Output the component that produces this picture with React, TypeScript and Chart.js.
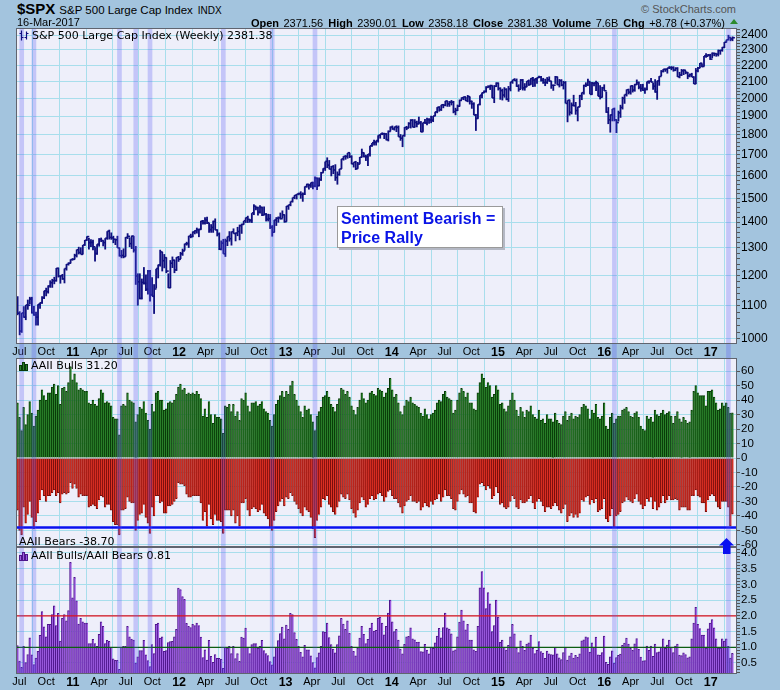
import React, { useEffect, useRef } from 'react';
import { Chart, registerables } from 'chart.js';

Chart.register(...registerables);

const FONT = 'Arial, "Liberation Sans", Helvetica, sans-serif';
const VFONT = '"DejaVu Sans", Verdana, sans-serif';

// week index 0 = week ending 25-Jun-2010 (weekly bars)
const FIRST_WEEK = '2010-06-25';

const priceHigh = [
  1131,1083,1078,1099,1103,1120,1129,1129,1100,1082,1105,1111,1131,1149,1159,1167,1184,1189,1196,1227,1228,1200,1206,1225,1241,1247,1258,1262,
  1278,1294,1304,1302,1311,1330,1344,1338,1333,1331,1302,1314,1337,1339,1329,1337,1364,1370,1359,1346,1334,1346,1301,1292,1298,1341,1356,1340,1347,1345,1307,1208,1208,1190,1230,1204,1220,1220,1195,1171,1224,1239,1293,1285,1277,1265,1208,1255,1268,1256,1266,1270,
  1285,1297,1316,1323,1346,1354,1363,1368,1378,1374,1406,1409,1420,1422,1397,1392,1406,1415,1371,1359,1328,1334,1335,1343,1364,1363,1375,1358,1381,1390,1394,1405,1419,1426,1413,1437,1474,1465,1464,1470,1464,1465,1437,1434,1433,1388,1409,1420,1423,1439,1448,1431,
  1467,1472,1486,1503,1514,1518,1524,1530,1525,1552,1564,1563,1570,1573,1597,1592,1592,1618,1635,1667,1687,1674,1646,1650,1654,1620,1632,1680,1693,1698,1709,1710,1697,1664,1670,1665,1689,1730,1711,1700,1704,1745,1759,1775,1771,1798,1804,1813,1811,1809,1823,1844,
  1849,1843,1850,1849,1804,1798,1841,1847,1867,1883,1883,1883,1875,1897,1873,1865,1884,1891,1889,1902,1901,1924,1950,1955,1963,1968,1985,1985,1984,1990,1985,1946,1964,1993,2006,2011,2008,2019,2010,1986,1977,1912,1966,2018,2034,2046,2071,2076,2079,2076,2077,2094,
  2093,2064,2056,2065,2058,2072,2097,2110,2119,2117,2082,2114,2114,2089,2102,2111,2120,2126,2117,2123,2134,2133,2121,2116,2126,2130,2102,2078,2133,2129,2114,2113,2103,2101,1989,1993,1976,2020,1979,1952,2020,2034,2080,2094,2116,2100,2097,2094,2104,2090,2077,2067,2082,
  2039,1950,1909,1940,1947,1882,1930,1963,2009,2022,2052,2056,2075,2075,2085,2111,2099,2084,2085,2064,2099,2106,2120,2092,2113,2104,2132,2169,2176,2178,2183,2194,2194,2193,2187,2187,2158,2176,2175,2165,2158,2148,2152,2131,2182,2189,2214,2211,2260,2278,2273,2273,
  2282,2280,2276,2301,2298,2319,2352,2368,2401,2384,2390.01,
];

const priceLow = [
  1071,1011,1018,1063,1056,1088,1105,1076,1069,1040,1040,1091,1107,1122,1131,1140,1159,1159,1171,1180,1194,1173,1186,1174,1218,1236,1243,1254,
  1257,1265,1276,1276,1276,1308,1327,1294,1303,1291,1250,1275,1305,1322,1306,1294,1331,1332,1331,1318,1311,1300,1268,1262,1262,1268,1334,1303,1296,1283,1169,1101,1121,1121,1170,1148,1137,1114,1131,1075,1157,1191,1232,1215,1226,1209,1158,1158,1227,1209,1217,1249,
  1259,1271,1290,1309,1300,1337,1341,1352,1355,1341,1370,1391,1391,1393,1358,1358,1358,1368,1344,1292,1291,1278,1267,1307,1324,1309,1354,1325,1345,1329,1354,1390,1397,1397,1398,1397,1429,1449,1427,1435,1425,1428,1403,1403,1373,1343,1359,1385,1398,1411,1416,1398,
  1402,1451,1466,1482,1496,1495,1513,1498,1485,1514,1547,1538,1546,1539,1548,1536,1553,1577,1614,1623,1636,1630,1598,1608,1577,1560,1601,1632,1672,1676,1681,1684,1654,1639,1627,1633,1656,1687,1687,1670,1646,1692,1740,1746,1746,1761,1781,1799,1779,1772,1767,1818,
  1827,1823,1815,1790,1770,1738,1791,1825,1836,1834,1839,1839,1840,1856,1814,1816,1859,1851,1859,1862,1868,1900,1916,1925,1929,1944,1955,1952,1952,1960,1916,1905,1928,1953,1990,1990,1984,1978,1965,1941,1905,1821,1886,1961,2001,2031,2034,2062,2049,2002,1973,2066,
  2046,1992,1988,2004,1989,1980,2041,2086,2103,2067,2039,2055,2046,2045,2067,2073,2080,2067,2068,2085,2120,2099,2086,2072,2085,2098,2056,2044,2085,2077,2064,2071,2052,1971,1867,1903,1910,1954,1908,1872,1951,1990,2022,2066,2072,2023,2020,2071,2042,2012,1994,2005,2043,
  1918,1857,1812,1872,1872,1810,1871,1891,1937,1969,2011,2023,2022,2034,2039,2078,2053,2039,2043,2026,2047,2086,2097,2050,2033,1992,2074,2132,2155,2159,2148,2177,2169,2160,2163,2127,2119,2133,2139,2144,2114,2125,2126,2084,2084,2156,2183,2187,2192,2248,2259,2234,
  2245,2258,2255,2257,2268,2288,2312,2349,2365,2358,2358.18,
];

const priceClose = [
  1077,1023,1078,1065,1103,1102,1122,1079,1072,1065,1105,1110,1126,1149,1146,1165,1176,1183,1183,1226,1199,1200,1189,1225,1240,1244,1257,1258,
  1272,1293,1283,1276,1311,1329,1343,1320,1321,1304,1279,1314,1332,1328,1320,1337,1364,1340,1338,1333,1331,1300,1271,1272,1268,1340,1344,1316,1345,1292,1199,1179,1124,1177,1174,1154,1216,1136,1131,1155,1225,1238,1285,1253,1264,1216,1159,1244,1255,1220,1265,1258,
  1278,1289,1315,1316,1345,1343,1361,1366,1370,1371,1404,1397,1409,1398,1370,1379,1403,1369,1353,1295,1318,1278,1326,1343,1335,1362,1355,1357,1363,1386,1391,1406,1418,1411,1407,1438,1466,1460,1441,1461,1429,1433,1412,1414,1380,1360,1409,1416,1418,1414,1430,1402,
  1466,1472,1486,1503,1513,1518,1520,1516,1518,1551,1561,1557,1569,1553,1589,1555,1582,1614,1634,1668,1650,1631,1643,1627,1592,1606,1632,1680,1692,1692,1710,1691,1656,1664,1633,1655,1688,1710,1692,1690,1703,1745,1760,1762,1771,1798,1805,1806,1805,1775,1818,1841,
  1831,1842,1839,1790,1783,1797,1839,1836,1860,1878,1841,1866,1858,1865,1816,1865,1863,1881,1879,1878,1901,1924,1949,1936,1963,1961,1985,1968,1978,1978,1925,1932,1955,1988,2003,2008,1986,2010,1983,1968,1906,1887,1965,2018,2032,2040,2064,2068,2075,2002,2071,2089,
  2058,2045,2019,2052,1995,2055,2097,2110,2105,2071,2053,2108,2061,2067,2102,2081,2118,2108,2116,2123,2126,2107,2093,2094,2110,2102,2077,2077,2127,2080,2104,2078,2092,1971,1989,1921,1961,1958,1931,1951,2015,2033,2075,2079,2099,2023,2089,2090,2092,2012,2006,2061,2044,
  1922,1880,1907,1940,1880,1865,1918,1948,2000,2022,2050,2036,2073,2048,2081,2092,2065,2057,2047,2052,2099,2099,2096,2071,2037,2103,2130,2162,2175,2174,2183,2184,2184,2169,2180,2128,2139,2165,2168,2154,2133,2141,2126,2085,2165,2182,2213,2192,2260,2258,2264,2239,
  2277,2275,2271,2295,2297,2316,2351,2367,2383,2373,2381.38,
];

// AAII weekly survey, % bullish
const aaiiBulls = [
  38,28,19,35,23,30,39,31,22,29,33,40,47,43,40,45,45,49,51,44,50,37,48,49,46,52,63,54,
  58,52,47,48,47,46,46,38,37,40,37,36,41,47,45,38,39,38,36,28,27,27,16,36,37,36,45,40,39,38,25,30,35,34,39,31,26,20,37,32,45,46,40,40,33,34,38,39,38,40,44,49,
  51,47,48,44,45,44,45,44,46,44,41,29,34,28,39,30,24,30,28,28,27,17,36,35,37,32,37,29,32,26,41,40,45,36,32,38,38,39,36,37,39,34,32,31,26,22,30,37,40,43,46,42,
  46,44,50,53,44,40,36,32,28,36,33,34,30,25,19,29,32,35,42,43,46,42,37,35,32,37,41,48,47,44,46,42,36,33,30,35,40,45,41,38,40,45,46,44,43,48,47,46,42,45,48,55,
  47,42,44,38,32,30,36,40,39,42,38,37,36,35,31,29,34,30,27,30,31,33,38,40,39,44,46,42,41,40,31,33,40,45,48,46,42,45,38,38,34,33,45,52,58,55,49,52,50,42,44,50,
  47,37,38,34,32,36,40,45,40,33,29,35,32,28,33,32,36,30,28,27,33,26,27,24,30,27,27,25,31,26,24,23,29,32,26,29,31,27,29,28,30,35,37,36,34,27,33,31,37,28,27,29,38,
  22,20,28,31,24,27,29,29,33,34,35,32,29,28,31,32,28,22,20,19,29,27,28,25,33,30,29,31,33,30,31,32,29,24,29,32,27,25,28,26,24,25,33,46,50,45,43,43,43,36,46,46,
  47,42,38,33,34,38,36,38,35,31,31.2,
];

// AAII weekly survey, % bearish (plotted below zero)
const aaiiBearsPct = [
  36,50,53,34,45,39,30,41,49,44,38,29,22,26,30,26,26,24,22,26,24,31,25,24,25,24,17,21,
  18,21,27,25,26,26,26,34,33,32,33,35,29,26,27,34,32,32,36,44,46,46,53,36,36,35,27,30,31,31,50,43,39,38,32,41,45,52,34,40,26,26,31,30,38,38,33,33,32,30,28,17,
  18,18,19,25,27,27,26,26,26,26,31,43,37,47,32,42,46,39,43,43,44,52,36,36,36,40,36,45,40,47,31,31,28,36,40,35,34,35,37,36,32,38,40,42,48,50,43,37,33,30,28,33,
  27,28,24,26,30,32,35,38,40,34,36,37,41,49,55,43,39,34,28,29,26,32,34,37,39,34,30,25,27,28,25,29,35,38,41,36,31,27,29,34,32,28,26,29,28,25,24,26,30,27,23,22,
  26,28,28,31,34,38,33,30,29,26,30,30,31,30,36,34,31,33,34,30,32,29,28,25,30,27,22,26,26,28,35,36,30,25,22,25,27,26,31,31,37,38,27,18,17,19,22,19,21,28,26,20,
  24,32,31,34,35,34,30,26,28,34,35,29,31,31,30,28,26,31,35,30,28,30,33,37,34,34,35,33,31,33,36,38,35,32,44,40,38,41,39,41,38,29,30,27,26,32,29,31,28,37,36,35,28,
  42,44,40,35,48,40,39,37,31,30,27,29,30,31,28,25,30,32,35,33,28,30,27,35,30,36,34,31,26,31,29,26,29,29,28,29,36,34,34,34,36,36,26,26,22,26,27,31,31,37,29,26,
  25,26,30,34,35,30,30,30,34,47,38.7,
];

// weeks marked with a highlight band (bearish extremes)
const bandWeeks = [2, 8, 50, 58, 65, 101, 125, 146, 293, 349];

const xTickDates = [
  '2010-07-01', '2010-10-01',
  '2011-01-01', '2011-04-01', '2011-07-01', '2011-10-01',
  '2012-01-01', '2012-04-01', '2012-07-01', '2012-10-01',
  '2013-01-01', '2013-04-01', '2013-07-01', '2013-10-01',
  '2014-01-01', '2014-04-01', '2014-07-01', '2014-10-01',
  '2015-01-01', '2015-04-01', '2015-07-01', '2015-10-01',
  '2016-01-01', '2016-04-01', '2016-07-01', '2016-10-01',
  '2017-01-01',
];
const xTickLabels = [
  'Jul', 'Oct',
  '11', 'Apr', 'Jul', 'Oct',
  '12', 'Apr', 'Jul', 'Oct',
  '13', 'Apr', 'Jul', 'Oct',
  '14', 'Apr', 'Jul', 'Oct',
  '15', 'Apr', 'Jul', 'Oct',
  '16', 'Apr', 'Jul', 'Oct',
  '17',
];

const priceLabelTicks = [1000, 1100, 1200, 1300, 1400, 1500, 1600, 1700, 1800, 1900, 2000, 2100, 2200, 2300, 2400];
const sentimentTicks = [-60, -50, -40, -30, -20, -10, 0, 10, 20, 30, 40, 50, 60];
const ratioTicks = [0.5, 1.0, 1.5, 2.0, 2.5, 3.0, 3.5, 4.0];

const bearAlertLevel = -48;
const ratioUpperLevel = 2.0;
const ratioLowerLevel = 1.0;

// axis ranges
const X_MIN = -0.8;
const X_MAX = 353.2;
const PRICE_MIN = 985.7;
const PRICE_MAX = 2449;
const SENT_MIN = -61.4;
const SENT_MAX = 69;
const RATIO_MIN = 0.15;
const RATIO_MAX = 4.19;

// layout (px)
const PRICE_AREA_H = 316;
const PRICE_STRIP_H = 14;

// colours
const PAGE_BG = 'rgb(163,196,222)';
const PANEL_BG = 'rgb(238,239,250)';
const GRID = 'rgb(168,222,236)';
const BORDER = '#60646f';
const BAND = 'rgba(85,85,245,0.27)';
const NAVY = '#10107f';

const DAY = 864e5;
const weekOf = (d: string) =>
  (Date.parse(d + 'T00:00:00Z') - Date.parse(FIRST_WEEK + 'T00:00:00Z')) / (7 * DAY);
const xTickPos = xTickDates.map(weekOf);

const panelPlugin = {
  id: 'panelFrame',
  beforeDraw(chart: any) {
    const { ctx, chartArea: a } = chart;
    ctx.save();
    ctx.fillStyle = PANEL_BG;
    ctx.fillRect(a.left, a.top, a.right - a.left, a.bottom - a.top);
    ctx.restore();
  },
  afterDraw(chart: any) {
    const { ctx, chartArea: a } = chart;
    ctx.save();
    ctx.strokeStyle = BORDER;
    ctx.lineWidth = 1;
    ctx.strokeRect(a.left + 0.5, a.top + 0.5, a.right - a.left - 1, a.bottom - a.top - 1);
    ctx.restore();
  },
};

function xScale(showLabels: boolean, height: number) {
  return {
    type: 'linear',
    min: X_MIN,
    max: X_MAX,
    bounds: 'data',
    offset: false,
    afterBuildTicks: (s: any) => {
      s.ticks = xTickPos.map((v) => ({ value: v }));
    },
    afterFit: (s: any) => {
      s.height = height;
      s.paddingLeft = 0;
      s.paddingRight = 0;
    },
    ticks: {
      display: showLabels,
      autoSkip: false,
      maxRotation: 0,
      minRotation: 0,
      padding: 1,
      color: '#000',
      callback: (_v: any, i: number) => xTickLabels[i],
      font: (ctx: any) => {
        const yr = /^\d/.test(xTickLabels[ctx.index] || '');
        return { family: FONT, size: yr ? 12.5 : 11, weight: yr ? 'bold' : 'normal' };
      },
    },
    grid: { color: GRID, drawTicks: false, lineWidth: 1 },
    border: { display: false },
  };
}

function yScale(extra: any) {
  return {
    position: 'right',
    bounds: 'data',
    afterFit: (s: any) => {
      s.width = 43;
      s.paddingTop = 0;
      s.paddingBottom = 0;
    },
    border: { display: false },
    ...extra,
  };
}

function bandDataset(lo: number, hi: number, clip?: boolean) {
  return {
    type: 'bar',
    data: bandWeeks.map((w) => ({ x: w, y: [lo, hi] })),
    backgroundColor: BAND,
    borderWidth: 0,
    barThickness: 4,
    grouped: false,
    order: 0,
    ...(clip === false ? { clip: false } : {}),
  };
}

function levelLine(level: number, color: string, width: number) {
  return {
    type: 'line',
    data: [
      { x: X_MIN, y: level },
      { x: X_MAX, y: level },
    ],
    borderColor: color,
    borderWidth: width,
    pointRadius: 0,
    fill: false,
    order: 0,
  };
}

const baseOptions = {
  responsive: false,
  animation: false,
  devicePixelRatio: 1,
  events: [],
  layout: { padding: { left: 16, right: 0, top: 0, bottom: 0 }, autoPadding: false },
  plugins: { legend: { display: false }, tooltip: { enabled: false }, title: { display: false } },
};

function priceConfig(): any {
  const tickVals: number[] = [];
  for (let v = 1000; v <= 2440; v += 20) tickVals.push(v);
  // bands continue through the date strip below the price panel
  const bandLow = PRICE_MIN * Math.pow(PRICE_MAX / PRICE_MIN, -PRICE_STRIP_H / PRICE_AREA_H);
  return {
    type: 'bar',
    data: {
      datasets: [
        bandDataset(bandLow, PRICE_MAX, false),
        {
          type: 'scatter',
          data: priceClose.map((c, i) => ({ x: i, y: c })),
          pointStyle: 'dash',
          pointRadius: 2.4,
          pointBorderWidth: 1.6,
          pointBorderColor: NAVY,
          pointBackgroundColor: NAVY,
          order: 1,
        },
        {
          type: 'bar',
          data: priceHigh.map((h, i) => ({ x: i, y: [priceLow[i], h] })),
          backgroundColor: NAVY,
          borderWidth: 0,
          barPercentage: 0.9,
          categoryPercentage: 1,
          grouped: false,
          order: 2,
        },
      ],
    },
    options: {
      ...baseOptions,
      scales: {
        x: xScale(true, PRICE_STRIP_H),
        y: yScale({
          type: 'logarithmic',
          min: PRICE_MIN,
          max: PRICE_MAX,
          afterBuildTicks: (s: any) => {
            s.ticks = tickVals.map((v) => ({ value: v }));
          },
          ticks: {
            autoSkip: false,
            padding: 1,
            color: '#000',
            font: { family: FONT, size: 12 },
            callback: (v: any) => (priceLabelTicks.includes(Number(v)) ? String(v) : ''),
          },
          grid: {
            color: (c: any) => (c.tick && priceLabelTicks.includes(c.tick.value) ? GRID : 'rgba(0,0,0,0)'),
            tickColor: '#555',
            tickLength: 3,
            lineWidth: 1,
          },
        }),
      },
    },
    plugins: [panelPlugin],
  };
}

function sentimentConfig(): any {
  return {
    type: 'bar',
    data: {
      datasets: [
        bandDataset(SENT_MIN, SENT_MAX),
        levelLine(bearAlertLevel, '#0a10f0', 2.5),
        {
          type: 'bar',
          data: aaiiBulls.map((v, i) => ({ x: i, y: v })),
          backgroundColor: 'rgb(42,128,42)',
          borderColor: 'rgb(8,58,8)',
          borderWidth: { left: 1, top: 1, right: 0, bottom: 0 },
          borderSkipped: false,
          barPercentage: 1,
          categoryPercentage: 1,
          grouped: false,
          order: 2,
        },
        {
          type: 'bar',
          data: aaiiBearsPct.map((v, i) => ({ x: i, y: -v })),
          backgroundColor: 'rgb(222,48,36)',
          borderColor: 'rgb(118,14,12)',
          borderWidth: { left: 1, bottom: 1, right: 0, top: 0 },
          borderSkipped: false,
          barPercentage: 1,
          categoryPercentage: 1,
          grouped: false,
          order: 2,
        },
      ],
    },
    options: {
      ...baseOptions,
      scales: {
        x: xScale(false, 5),
        y: yScale({
          type: 'linear',
          min: SENT_MIN,
          max: SENT_MAX,
          afterBuildTicks: (s: any) => {
            s.ticks = sentimentTicks.map((v) => ({ value: v }));
          },
          ticks: {
            autoSkip: false,
            padding: 1,
            color: '#000',
            font: { family: FONT, size: 11.5 },
            callback: (v: any) => String(v),
          },
          grid: { color: GRID, tickColor: '#555', tickLength: 3, lineWidth: 1 },
        }),
      },
    },
    plugins: [panelPlugin],
  };
}

function ratioConfig(): any {
  const tickVals: number[] = [];
  for (let k = 2; k <= 41; k++) tickVals.push(k / 10);
  const isLabel = (v: number) => ratioTicks.some((t) => Math.abs(t - v) < 1e-6);
  return {
    type: 'bar',
    data: {
      datasets: [
        bandDataset(RATIO_MIN, RATIO_MAX),
        levelLine(ratioUpperLevel, '#e0101c', 1.3),
        levelLine(ratioLowerLevel, '#0d5e12', 1.3),
        {
          type: 'bar',
          data: aaiiBulls.map((b, i) => ({ x: i, y: b / aaiiBearsPct[i] })),
          backgroundColor: 'rgb(156,92,224)',
          borderColor: 'rgb(78,22,140)',
          borderWidth: { left: 1, top: 1, right: 0, bottom: 0 },
          borderSkipped: false,
          barPercentage: 1,
          categoryPercentage: 1,
          grouped: false,
          order: 2,
        },
      ],
    },
    options: {
      ...baseOptions,
      scales: {
        x: xScale(true, 16),
        y: yScale({
          type: 'linear',
          min: RATIO_MIN,
          max: RATIO_MAX,
          afterBuildTicks: (s: any) => {
            s.ticks = tickVals.map((v) => ({ value: v }));
          },
          ticks: {
            autoSkip: false,
            padding: 1,
            color: '#000',
            font: { family: FONT, size: 11.5 },
            callback: (v: any) => (isLabel(Number(v)) ? Number(v).toFixed(1) : ''),
          },
          grid: {
            color: (c: any) => (c.tick && isLabel(c.tick.value) ? GRID : 'rgba(0,0,0,0)'),
            tickColor: '#555',
            tickLength: 3,
            lineWidth: 1,
          },
        }),
      },
    },
    plugins: [panelPlugin],
  };
}

const abs = (s: any): any => ({ position: 'absolute', whiteSpace: 'nowrap', ...s });

function BarsIcon({ fill, edge }: { fill: string; edge: string }) {
  return (
    <svg width="9" height="10" style={{ display: 'block' }}>
      <rect x="0.5" y="4.5" width="2" height="5" fill={fill} stroke={edge} strokeWidth="1" />
      <rect x="3.5" y="1.5" width="2" height="8" fill={fill} stroke={edge} strokeWidth="1" />
      <rect x="6.5" y="3.5" width="2" height="6" fill={fill} stroke={edge} strokeWidth="1" />
    </svg>
  );
}

export default function App() {
  const refA = useRef<HTMLCanvasElement>(null);
  const refB = useRef<HTMLCanvasElement>(null);
  const refC = useRef<HTMLCanvasElement>(null);

  useEffect(() => {
    const charts = [
      new Chart(refA.current as any, priceConfig()),
      new Chart(refB.current as any, sentimentConfig()),
      new Chart(refC.current as any, ratioConfig()),
    ];
    return () => charts.forEach((c) => c.destroy());
  }, []);

  const lbl = { fontWeight: 'bold', fontSize: 11 };
  const val = { fontSize: 11 };
  const gap = 5;

  return (
    <div
      style={{
        position: 'absolute',
        left: 0,
        top: 0,
        width: 780,
        height: 690,
        background: PAGE_BG,
        overflow: 'hidden',
        fontFamily: FONT,
        color: '#000',
      }}
    >
      <canvas ref={refA} width={780} height={PRICE_AREA_H + PRICE_STRIP_H} style={{ position: 'absolute', left: 0, top: 28 }} />
      <canvas ref={refB} width={780} height={194} style={{ position: 'absolute', left: 0, top: 358 }} />
      <canvas ref={refC} width={780} height={143} style={{ position: 'absolute', left: 0, top: 547 }} />

      {/* header */}
      <div style={abs({ left: 17, top: 0, height: 17, display: 'flex', alignItems: 'baseline', lineHeight: '17px' })}>
        <span style={{ fontSize: 15, fontWeight: 'bold' }}>$SPX</span>
        <span style={{ fontSize: 11.5, marginLeft: 4 }}>S&amp;P 500 Large Cap Index</span>
        <span style={{ fontSize: 10, marginLeft: 5 }}>INDX</span>
      </div>
      <div style={abs({ left: 17, top: 15, fontSize: 11, lineHeight: '14px' })}>16-Mar-2017</div>
      <div style={abs({ right: 44, top: 2, fontSize: 11, lineHeight: '14px', color: '#555' })}>© StockCharts.com</div>
      <div style={abs({ right: 55, top: 15, lineHeight: '14px' })}>
        <span style={lbl}>Open</span> <span style={val}>2371.56</span>
        <span style={{ ...lbl, marginLeft: gap }}>High</span> <span style={val}>2390.01</span>
        <span style={{ ...lbl, marginLeft: gap }}>Low</span> <span style={val}>2358.18</span>
        <span style={{ ...lbl, marginLeft: gap }}>Close</span> <span style={val}>2381.38</span>
        <span style={{ ...lbl, marginLeft: gap }}>Volume</span> <span style={val}>7.6B</span>
        <span style={{ ...lbl, marginLeft: gap }}>Chg</span> <span style={val}>+8.78 (+0.37%)</span>
      </div>
      <div
        style={abs({
          left: 730,
          top: 19,
          width: 0,
          height: 0,
          borderLeft: '4px solid transparent',
          borderRight: '4px solid transparent',
          borderBottom: '5px solid #2c8a2c',
        })}
      />

      {/* panel legends */}
      <div style={abs({ left: 19, top: 29, display: 'flex', alignItems: 'center', height: 13 })}>
        <svg width="10" height="11" style={{ display: 'block' }}>
          <path d="M2.5 0.5 V10.5 M0.5 3.5 H2.5 M2.5 7.5 H4.5 M7.5 1.5 V9.5 M5.5 7.5 H7.5 M7.5 3.5 H9.5" stroke={NAVY} strokeWidth="1.2" fill="none" />
        </svg>
        <span style={{ fontFamily: VFONT, fontSize: 11, marginLeft: 3, lineHeight: '13px' }}>
          S&amp;P 500 Large Cap Index (Weekly) 2381.38
        </span>
      </div>
      <div style={abs({ left: 19, top: 359, display: 'flex', alignItems: 'center', height: 13 })}>
        <BarsIcon fill="rgb(42,128,42)" edge="rgb(8,58,8)" />
        <span style={{ fontFamily: VFONT, fontSize: 11, marginLeft: 3, lineHeight: '13px' }}>AAII Bulls 31.20</span>
      </div>
      <div style={abs({ left: 19, top: 535, fontFamily: VFONT, fontSize: 11, lineHeight: '13px' })}>AAII Bears -38.70</div>
      <div style={abs({ left: 19, top: 549, display: 'flex', alignItems: 'center', height: 13 })}>
        <BarsIcon fill="rgb(156,92,224)" edge="rgb(78,22,140)" />
        <span style={{ fontFamily: VFONT, fontSize: 11, marginLeft: 3, lineHeight: '13px' }}>
          AAII Bulls/AAII Bears 0.81
        </span>
      </div>

      {/* annotation box */}
      <div
        style={abs({
          left: 337,
          top: 206,
          width: 166,
          height: 42,
          background: '#fff',
          border: '1px solid #9a9a9a',
          boxShadow: '2px 2px 0 #b4b8c4',
          color: '#0a14e6',
          fontWeight: 'bold',
          fontSize: 16,
          lineHeight: '19px',
          padding: '2px 0 0 3px',
          boxSizing: 'border-box',
          whiteSpace: 'normal',
        })}
      >
        Sentiment Bearish =<br />
        Price Rally
      </div>

      {/* arrow */}
      <svg width="16" height="16" style={{ position: 'absolute', left: 719, top: 538 }}>
        <polygon points="0,7.5 7.5,0 15,7.5" fill="#0a10f0" />
        <rect x="4" y="7" width="7.5" height="9" fill="#0a10f0" />
      </svg>
    </div>
  );
}
